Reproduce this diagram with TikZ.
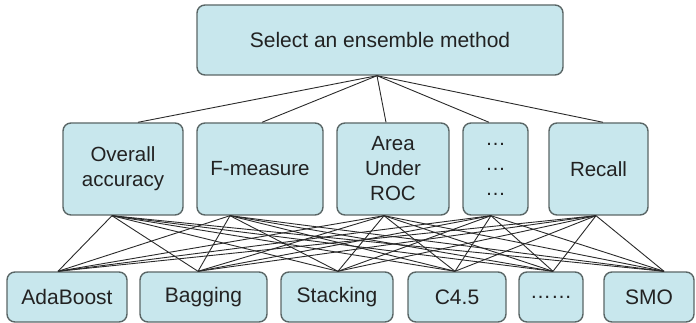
\documentclass[tikz,border=0pt]{standalone}
\usepackage{fontspec}
\setmainfont{Liberation Sans}
\definecolor{boxfill}{HTML}{C8E7ED}
\definecolor{boxline}{HTML}{5A6666}
\definecolor{linkcol}{HTML}{2A2A2A}
\definecolor{txtcol}{HTML}{222222}
\begin{document}
\begin{tikzpicture}[x=1pt,y=-1pt,
  box/.style={draw=boxline, fill=boxfill, line width=1.4pt, rounded corners=8pt,
    inner sep=0pt, align=center, text=txtcol},
  mid/.style={box, minimum height=92pt, font=\fontsize{20.5}{25}\selectfont},
  low/.style={box, minimum height=50pt, font=\fontsize{21}{25}\selectfont},
  link/.style={draw=linkcol, line width=0.9pt}]
\useasboundingbox (0,0) rectangle (696,323);

% decision goal
\node[box, minimum width=366pt, minimum height=70pt, font=\fontsize{21}{25}\selectfont]
  (goal) at (380,40) {Select an ensemble method};

% evaluation criteria
\node[mid, minimum width=120pt] (ov)    at (123,169)   {Overall\\accuracy};
\node[mid, minimum width=126pt] (fm)    at (260,169)   {F-measure};
\node[mid, minimum width=112pt] (area)  at (393,169)   {Area\\Under\\ROC};
\node[mid, minimum width=65pt]  (mdots) at (495.5,169) {…\\…\\…};
\node[mid, minimum width=99pt]  (rec)   at (598.5,169) {Recall};

% candidate methods
\node[low, minimum width=120pt] (ada)   at (67,297)    {AdaBoost};
\node[low, minimum width=127pt] (bag)   at (203.5,297) {Bagging};
\node[low, minimum width=112pt] (sta)   at (337,297)   {Stacking};
\node[low, minimum width=98pt]  (c45)   at (457,297)   {C4.5};
\node[low, minimum width=64pt]  (bdots) at (551,297)   {……};
\node[low, minimum width=90pt]  (smo)   at (649,297)   {SMO};

% goal to every criterion
\foreach \m/\dx in {ov/15, fm/2, area/-7, mdots/-6.5, rec/4.5}
  \draw[link] ([xshift=-3pt]goal.south) -- ([xshift=\dx pt]\m.north);

% every criterion to every method
\foreach \m/\mx in {ov/-11, fm/-30, area/-9, mdots/-4.5, rec/-2.5}
  \foreach \b/\bx in {ada/-9, bag/-5.5, sta/1, c45/-2, bdots/2, smo/15}
    \draw[link] ([xshift=\mx pt]\m.south) -- ([xshift=\bx pt]\b.north);
\end{tikzpicture}
\end{document}
